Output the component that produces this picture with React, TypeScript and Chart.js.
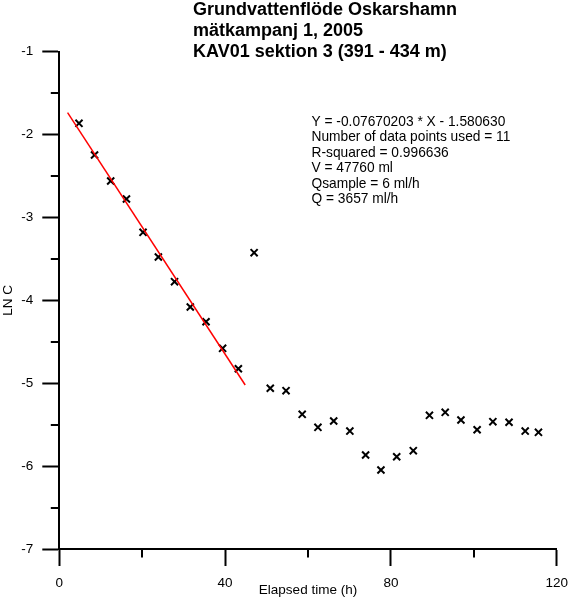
import React, { useEffect, useRef } from 'react';
import { Chart, registerables } from 'chart.js';

Chart.register(...registerables);

// ---- Data ----
const titleLines = [
  'Grundvattenflöde Oskarshamn',
  'mätkampanj 1, 2005',
  'KAV01 sektion 3 (391 - 434 m)',
];
const annotationLines = [
  'Y = -0.07670203 * X - 1.580630',
  'Number of data points used = 11',
  'R-squared = 0.996636',
  'V = 47760 ml',
  'Qsample = 6 ml/h',
  'Q = 3657 ml/h',
];
const xAxisTitle = 'Elapsed time (h)';
const yAxisTitle = 'LN C';

const timeH = [
  4.75, 8.5, 12.4, 16.2, 20.2, 23.9, 27.8, 31.6, 35.4, 39.4, 43.2,
  47.0, 50.9, 54.7, 58.6, 62.4, 66.2, 70.1, 73.9, 77.6, 81.4,
  85.4, 89.3, 93.1, 96.9, 100.8, 104.6, 108.5, 112.4, 115.6,
];
const lnC = [
  -1.864, -2.246, -2.56, -2.777, -3.179, -3.477, -3.775, -4.08, -4.258, -4.579, -4.825,
  -3.425, -5.061, -5.09, -5.375, -5.532, -5.456, -5.577, -5.866, -6.047, -5.887,
  -5.814, -5.387, -5.351, -5.444, -5.561, -5.464, -5.471, -5.577, -5.592,
];
const fitX = [2, 44.85];
const fitY = [-1.734, -5.021];

const xMin = 0, xMax = 120, xStep = 40;
const yMin = -7, yMax = -1, yStep = 1;

// ---- Style ----
const FONT = '"Liberation Sans", Arial, sans-serif';
const TICK_SIZE = 13.5;
const AXIS_W = 2;
const MAJOR_LEN = 17;
const MINOR_LEN = 8.5;

const overlayPlugin = {
  id: 'overlay',
  afterDraw(chart: any) {
    const ctx = chart.ctx as CanvasRenderingContext2D;
    const xs = chart.scales.x;
    const ys = chart.scales.y;
    ctx.save();
    ctx.strokeStyle = '#000';
    ctx.lineWidth = AXIS_W;
    ctx.beginPath();
    const xt = xs.ticks.map((t: any) => t.value);
    for (let i = 0; i < xt.length - 1; i++) {
      const px = Math.round(xs.getPixelForValue((xt[i] + xt[i + 1]) / 2));
      ctx.moveTo(px, xs.top);
      ctx.lineTo(px, xs.top + MINOR_LEN);
    }
    const yt = ys.ticks.map((t: any) => t.value);
    for (let i = 0; i < yt.length - 1; i++) {
      const py = Math.round(ys.getPixelForValue((yt[i] + yt[i + 1]) / 2));
      ctx.moveTo(ys.right - MINOR_LEN, py);
      ctx.lineTo(ys.right, py);
    }
    ctx.stroke();

    ctx.fillStyle = '#000';
    ctx.textAlign = 'left';
    ctx.textBaseline = 'middle';
    ctx.font = `bold 18px ${FONT}`;
    titleLines.forEach((t, i) => ctx.fillText(t, 193, 10 + i * 21));
    ctx.font = `13.75px ${FONT}`;
    annotationLines.forEach((t, i) => ctx.fillText(t, 311.5, 122 + i * 15.5));
    ctx.restore();
  },
};

export default function App() {
  const ref = useRef<HTMLCanvasElement>(null);
  useEffect(() => {
    if (!ref.current) return;
    const points = timeH.map((x, i) => ({ x, y: lnC[i] }));
    const fit = fitX.map((x, i) => ({ x, y: fitY[i] }));
    const tickFont = { family: FONT, size: TICK_SIZE };
    const chart = new Chart(ref.current, {
      type: 'scatter',
      data: {
        datasets: [
          {
            data: fit,
            showLine: true,
            borderColor: '#ff0000',
            borderWidth: 1.5,
            pointRadius: 0,
          },
          {
            data: points,
            pointStyle: 'crossRot',
            pointRadius: 5,
            borderColor: '#000',
            backgroundColor: '#000',
            borderWidth: 2,
          },
        ],
      },
      options: {
        responsive: false,
        animation: false,
        layout: { padding: { left: 0, top: 51.7, right: 12.3, bottom: 0 } },
        plugins: {
          legend: { display: false },
          tooltip: { enabled: false },
          title: { display: false },
        },
        scales: {
          x: {
            type: 'linear',
            min: xMin,
            max: xMax,
            ticks: { stepSize: xStep, padding: 9, color: '#000', font: tickFont, maxRotation: 0 },
            grid: {
              drawOnChartArea: false,
              drawTicks: true,
              tickLength: MAJOR_LEN,
              tickColor: '#000',
              tickWidth: AXIS_W,
            },
            border: { display: true, color: '#000', width: AXIS_W },
            title: {
              display: true,
              text: xAxisTitle,
              color: '#000',
              font: tickFont,
              padding: { top: 7, bottom: 7 },
            },
            afterFit: (s: any) => {
              s.height = 56;
              s.paddingLeft = 0;
              s.paddingRight = 0;
            },
          },
          y: {
            type: 'linear',
            min: yMin,
            max: yMax,
            ticks: { stepSize: yStep, padding: 9, color: '#000', font: tickFont },
            grid: {
              drawOnChartArea: false,
              drawTicks: true,
              tickLength: MAJOR_LEN,
              tickColor: '#000',
              tickWidth: AXIS_W,
            },
            border: { display: true, color: '#000', width: AXIS_W },
            title: {
              display: true,
              text: yAxisTitle,
              color: '#000',
              font: tickFont,
              padding: { top: 0, bottom: 0 },
            },
            afterFit: (s: any) => {
              s.width = 59.3;
              s.paddingTop = 0;
              s.paddingBottom = 0;
            },
          },
        },
      },
      plugins: [overlayPlugin],
    });
    return () => chart.destroy();
  }, []);
  return (
    <div style={{ position: 'absolute', left: 0, top: 0, width: 569, height: 605, background: '#fff' }}>
      <canvas ref={ref} width={569} height={605} style={{ display: 'block' }} />
    </div>
  );
}
